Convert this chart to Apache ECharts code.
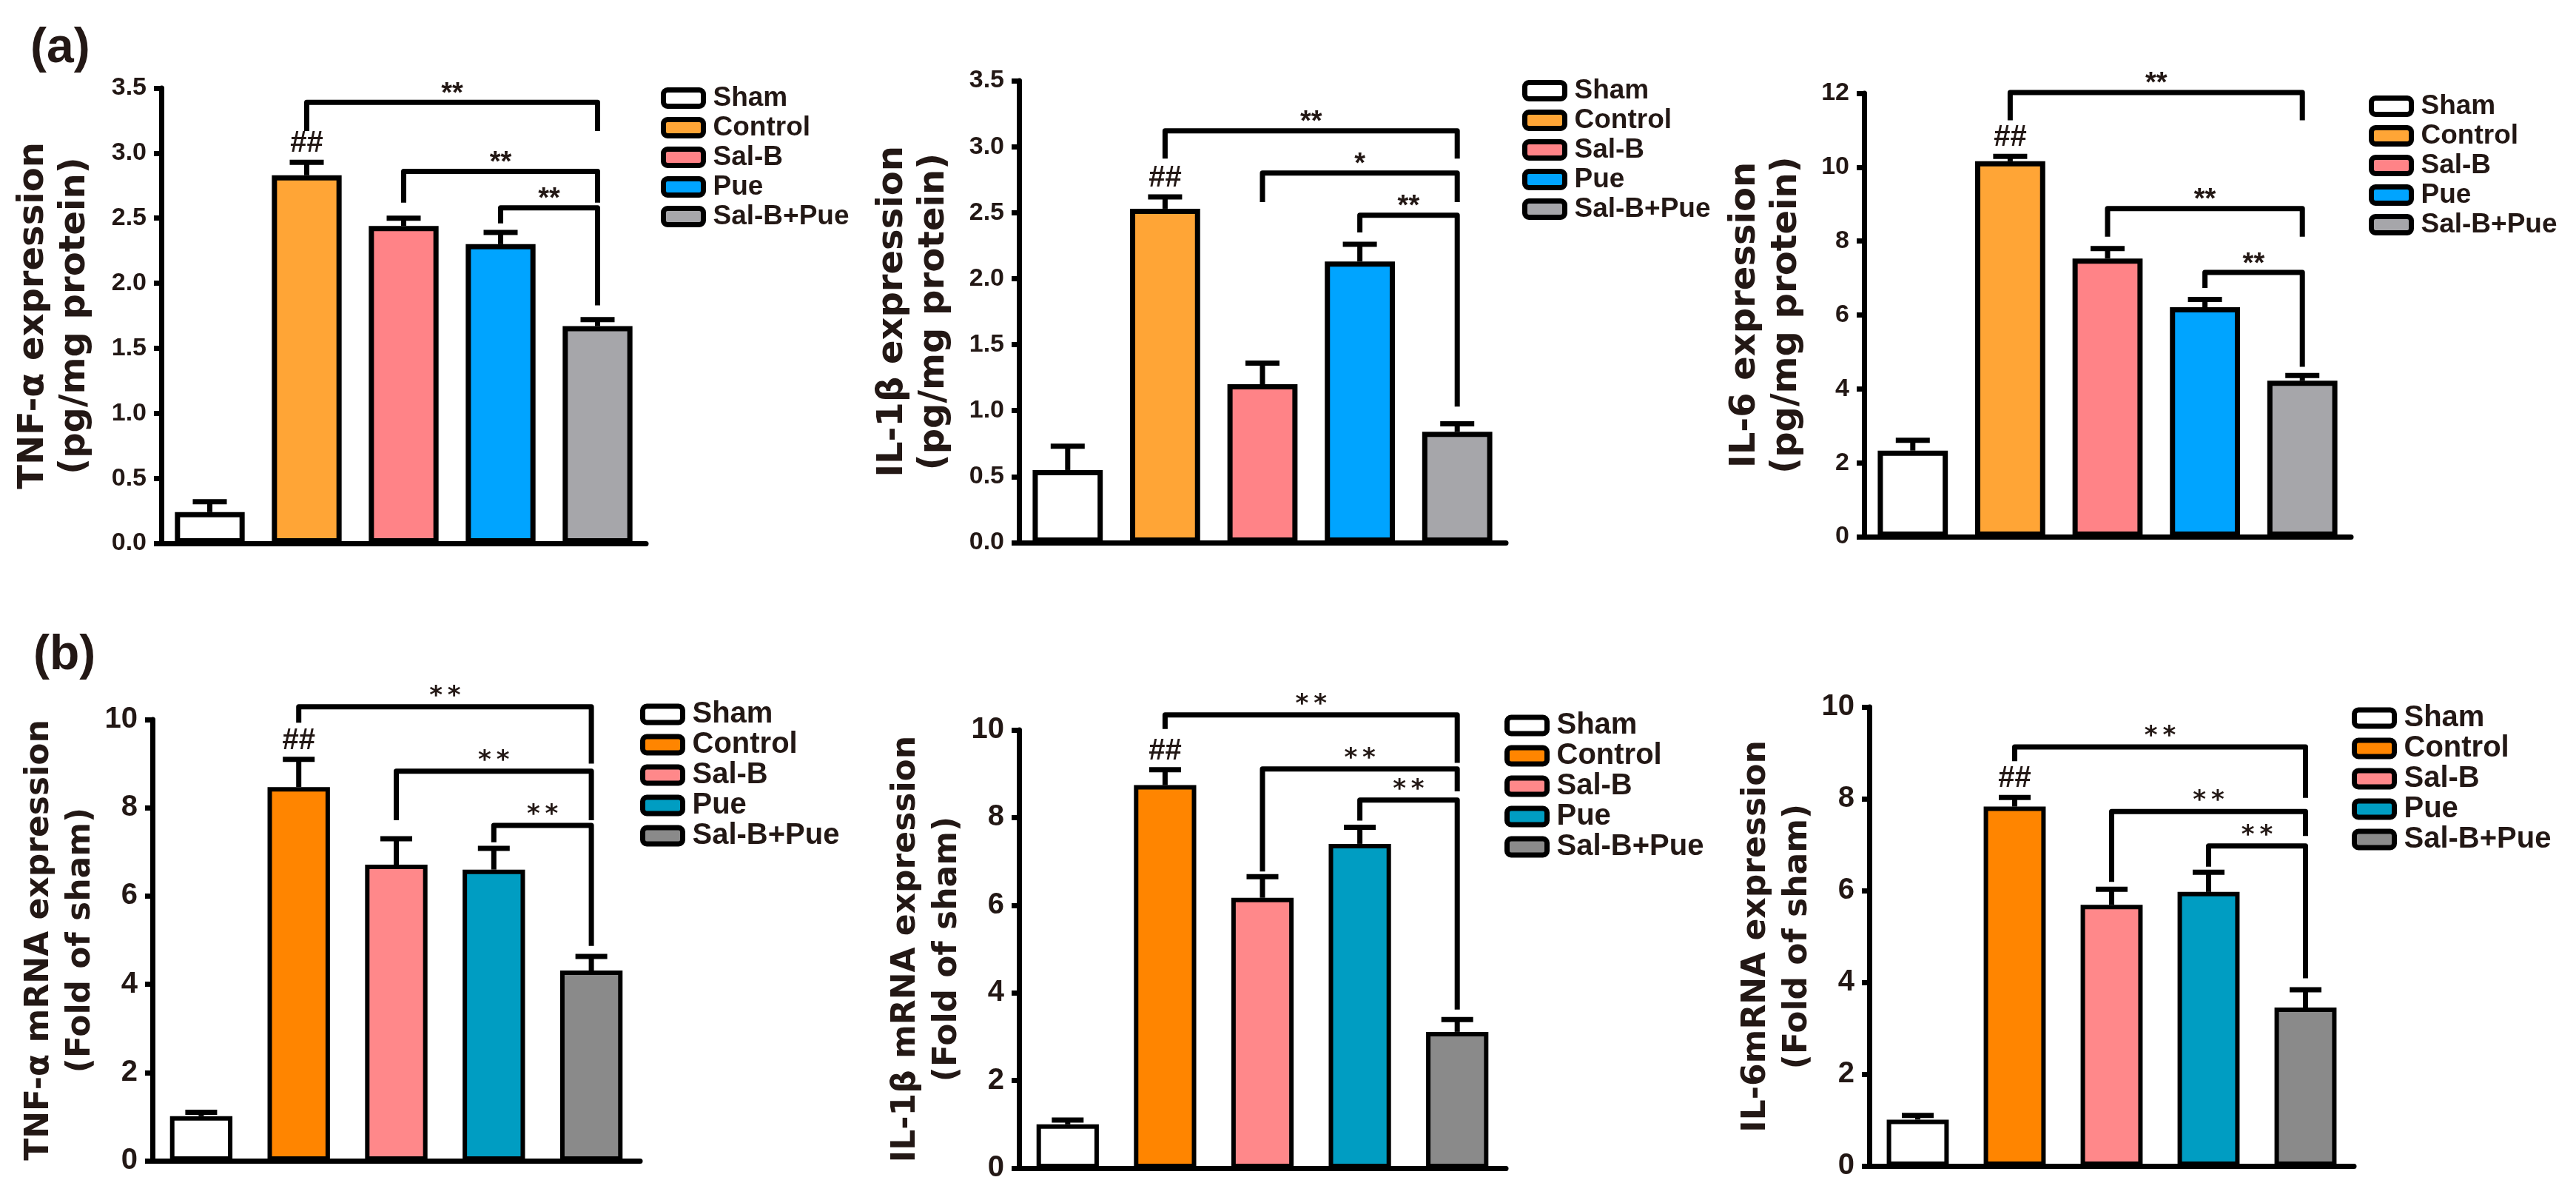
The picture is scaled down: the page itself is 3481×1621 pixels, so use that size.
<!DOCTYPE html>
<html>
<head>
<meta charset="utf-8">
<script src="https://cdn.jsdelivr.net/npm/echarts@6/dist/echarts.min.js"></script>
<style>
html, body { margin: 0; padding: 0; background: #fff; }
#container { width: 3481px; height: 1621px; }
</style>
</head>
<body>
<div id="container"></div>
<script>
var groups = ['Sham', 'Control', 'Sal-B', 'Pue', 'Sal-B+Pue'];
var coloursA = ['#FFFFFF', '#FFA536', '#FF8387', '#00A4FF', '#A6A6AA'];
var coloursB = ['#FFFFFF', '#FF8500', '#FF888A', '#009DC2', '#8A8A8A'];
var marks = ['', '##', '', '', ''];

// (a) protein level, pg/mg protein (mean, SEM)
var tnfProtein = [0.24, 2.83, 2.44, 2.30, 1.67];
var tnfProteinErr = [0.08, 0.10, 0.06, 0.09, 0.05];
var il1bProtein = [0.55, 2.53, 1.20, 2.13, 0.84];
var il1bProteinErr = [0.18, 0.09, 0.16, 0.13, 0.06];
var il6Protein = [2.33, 10.16, 7.53, 6.21, 4.22];
var il6ProteinErr = [0.28, 0.13, 0.27, 0.21, 0.14];

// (b) mRNA, fold of sham (mean, SEM)
var tnfMrna = [1.01, 8.47, 6.71, 6.60, 4.31];
var tnfMrnaErr = [0.09, 0.63, 0.59, 0.48, 0.32];
var il1bMrna = [1.00, 8.74, 6.17, 7.40, 3.11];
var il1bMrnaErr = [0.10, 0.35, 0.48, 0.38, 0.28];
var il6Mrna = [1.01, 7.83, 5.69, 5.97, 3.45];
var il6MrnaErr = [0.09, 0.20, 0.34, 0.43, 0.39];

// significance brackets: [from group, to group, bar level, left end, right end, label]
var tnfProteinBrackets = [[1, 4, 3.39, 3.17, 3.17, '**'], [2, 4, 2.86, 2.62, 2.62, '**'], [3, 4, 2.58, 2.46, 1.83, '**']];
var il1bProteinBrackets = [[1, 4, 3.12, 2.91, 2.91, '**'], [2, 4, 2.80, 2.58, 2.58, '*'], [3, 4, 2.48, 2.35, 1.03, '**']];
var il6ProteinBrackets = [[1, 4, 12.02, 11.27, 11.27, '**'], [2, 4, 8.88, 8.12, 8.12, '**'], [3, 4, 7.15, 6.73, 4.60, '**']];
var tnfMrnaBrackets = [[1, 4, 10.29, 9.93, 9.00, '**'], [2, 4, 8.83, 7.72, 7.72, '**'], [3, 4, 7.60, 7.22, 4.87, '**']];
var il1bMrnaBrackets = [[1, 4, 10.34, 10.02, 9.25, '**'], [2, 4, 9.11, 6.77, 8.60, '**'], [3, 4, 8.40, 7.93, 3.62, '**']];
var il6MrnaBrackets = [[1, 4, 9.13, 8.82, 8.02, '**'], [2, 4, 7.72, 6.19, 7.19, '**'], [3, 4, 6.97, 6.52, 4.09, '**']];

var ink = '#231815';

var rowA = { colours: coloursA, barWidth: '72%', border: 7, line: 7, cap: 46, tick: 34, legendFont: 37, legendGap: 3,
    nameFont: 48, nameLine: 56, star: 'bold 38px "Liberation Sans"', starText: '**', starLift: 11 };
var rowB = { colours: coloursB, barWidth: '64%', border: 6, line: 7, cap: 43, tick: 40, legendFont: 40, legendGap: 1,
    nameFont: 44, nameLine: 56, star: 'bold 34px "DejaVu Sans"', starText: '*\u2009*', starLift: 14 };

var panels = [
    { vals: tnfProtein, errs: tnfProteinErr, brackets: tnfProteinBrackets, st: rowA,
      name: 'TNF-\u03b1 expression\n(pg/mg protein)', max: 3.5, step: 0.5, digits: 1, nameGap: 88,
      grid: { left: 218, top: 119, width: 655, height: 615 }, legend: { left: 888, top: 109 } },
    { vals: il1bProtein, errs: il1bProteinErr, brackets: il1bProteinBrackets, st: rowA,
      name: 'IL-1\u03b2 expression\n(pg/mg protein)', max: 3.5, step: 0.5, digits: 1, nameGap: 86,
      grid: { left: 1377, top: 109, width: 658, height: 624 }, legend: { left: 2052, top: 99 } },
    { vals: il6Protein, errs: il6ProteinErr, brackets: il6ProteinBrackets, st: rowA,
      name: 'IL-6 expression\n(pg/mg protein)', max: 12, step: 2, digits: 0, nameGap: 76,
      grid: { left: 2519, top: 126, width: 658, height: 599 }, legend: { left: 3196, top: 120 } },
    { vals: tnfMrna, errs: tnfMrnaErr, brackets: tnfMrnaBrackets, st: rowB,
      name: 'TNF-\u03b1 mRNA expression\n(Fold of sham)', max: 10, step: 2, digits: 0, nameGap: 62,
      grid: { left: 206, top: 972, width: 659, height: 596 }, legend: { left: 860, top: 940 } },
    { vals: il1bMrna, errs: il1bMrnaErr, brackets: il1bMrnaBrackets, st: rowB,
      name: 'IL-1\u03b2 mRNA expression\n(Fold of sham)', max: 10, step: 2, digits: 0, nameGap: 66,
      grid: { left: 1377, top: 986, width: 658, height: 592 }, legend: { left: 2028, top: 955 } },
    { vals: il6Mrna, errs: il6MrnaErr, brackets: il6MrnaBrackets, st: rowB,
      name: 'IL-6mRNA expression\n(Fold of sham)', max: 10, step: 2, digits: 0, nameGap: 58,
      grid: { left: 2526, top: 955, width: 655, height: 620 }, legend: { left: 3173, top: 945 } }
];

function errorRender(st) {
    return function (params, api) {
        var base = api.coord([api.value(0), api.value(1)]);
        var top = api.coord([api.value(0), api.value(1) + api.value(2)]);
        var kids = [
            { type: 'line', shape: { x1: base[0], y1: base[1], x2: top[0], y2: top[1] },
              style: { stroke: '#000', lineWidth: st.line } },
            { type: 'line', shape: { x1: top[0] - st.cap / 2, y1: top[1], x2: top[0] + st.cap / 2, y2: top[1] },
              style: { stroke: '#000', lineWidth: st.line } }
        ];
        var mark = marks[params.dataIndex];
        if (mark) {
            kids.push({ type: 'text', x: top[0], y: top[1] - 25,
                style: { text: mark, fill: ink, font: 'bold 40px "Liberation Sans"', align: 'center', verticalAlign: 'middle' } });
        }
        return { type: 'group', children: kids };
    };
}

function bracketRender(p) {
    var st = p.st;
    return function (params, api) {
        var a = api.coord([api.value(0), api.value(3)]);
        var b = api.coord([api.value(0), api.value(2)]);
        var c = api.coord([api.value(1), api.value(2)]);
        var d = api.coord([api.value(1), api.value(4)]);
        var label = p.brackets[params.dataIndex][5];
        var text = label === '**' ? st.starText : label;
        return { type: 'group', children: [
            { type: 'polyline', shape: { points: [a, b, c, d] },
              style: { stroke: '#000', lineWidth: st.line, fill: null, lineJoin: 'round' } },
            { type: 'text', x: (b[0] + c[0]) / 2, y: b[1] - st.starLift,
              style: { text: text, fill: ink, font: st.star, align: 'center', verticalAlign: 'middle' } }
        ] };
    };
}

var grids = [], xAxes = [], yAxes = [], legends = [], series = [];

panels.forEach(function (p, i) {
    var st = p.st;
    grids.push(p.grid);
    xAxes.push({
        gridIndex: i, type: 'category', data: groups,
        axisLine: { lineStyle: { color: '#000', width: st.line } },
        axisTick: { alignWithLabel: true, length: 14, lineStyle: { color: '#000', width: 6 } },
        axisLabel: { show: false }
    });
    yAxes.push({
        gridIndex: i, type: 'value', min: 0, max: p.max, interval: p.step,
        splitLine: { show: false },
        axisLine: { show: true, lineStyle: { color: '#000', width: st.line } },
        axisTick: { show: true, length: 10, lineStyle: { color: '#000', width: 7 } },
        axisLabel: {
            margin: 20, color: ink, fontFamily: 'Liberation Sans', fontWeight: 'bold', fontSize: st.tick,
            formatter: function (v) { return v.toFixed(p.digits); }
        },
        name: p.name, nameLocation: 'middle', nameRotate: 90, nameGap: p.nameGap,
        nameTextStyle: { color: ink, fontFamily: 'DejaVu Sans', fontWeight: 'bold', fontSize: st.nameFont, lineHeight: st.nameLine }
    });
    legends.push({
        orient: 'vertical', left: p.legend.left, top: p.legend.top,
        icon: 'roundRect', itemWidth: 54, itemHeight: 22, itemGap: st.legendGap,
        selectedMode: false,
        data: groups.map(function (g, k) {
            return { name: g, itemStyle: { color: st.colours[k], borderColor: '#000', borderWidth: 7 } };
        }),
        textStyle: { color: ink, fontFamily: 'Liberation Sans', fontWeight: 'bold', fontSize: st.legendFont,
            lineHeight: 30, padding: [0, 0, 0, 8] }
    });
    groups.forEach(function (g, k) {
        series.push({
            type: 'bar', name: g, xAxisIndex: i, yAxisIndex: i,
            barWidth: st.barWidth, barGap: '-100%',
            data: p.vals.map(function (v, j) { return j === k ? v : '-'; }),
            itemStyle: { color: st.colours[k], borderColor: '#000', borderWidth: st.border }
        });
    });
    series.push({
        type: 'custom', xAxisIndex: i, yAxisIndex: i, clip: false, z: 3,
        data: p.vals.map(function (v, j) { return [j, v, p.errs[j]]; }),
        renderItem: errorRender(st)
    });
    series.push({
        type: 'custom', xAxisIndex: i, yAxisIndex: i, clip: false, z: 3,
        data: p.brackets.map(function (r) { return r.slice(0, 5); }),
        renderItem: bracketRender(p)
    });
});

var dom = document.getElementById('container');
var myChart = echarts.init(dom);

var option = {
    backgroundColor: '#fff',
    animation: false,
    title: [
        { text: '(a)', left: 36, top: 28, textStyle: { color: ink, fontFamily: 'Liberation Sans', fontWeight: 'bold', fontSize: 66 } },
        { text: '(b)', left: 40, top: 848, textStyle: { color: ink, fontFamily: 'Liberation Sans', fontWeight: 'bold', fontSize: 66 } }
    ],
    grid: grids,
    xAxis: xAxes,
    yAxis: yAxes,
    legend: legends,
    series: series
};

if (option && typeof option === 'object') {
    myChart.setOption(option);
}
</script>
</body>
</html>
